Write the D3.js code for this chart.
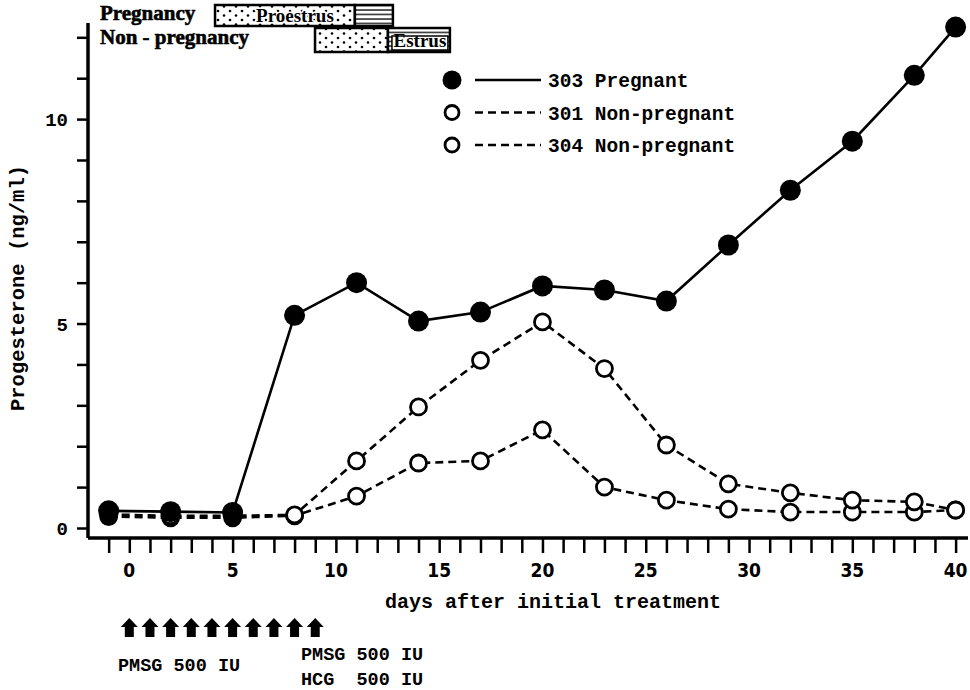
<!DOCTYPE html>
<html>
<head>
<meta charset="utf-8">
<script src="https://cdn.jsdelivr.net/npm/d3@7/dist/d3.min.js"></script>
<style>
body{margin:0;background:#fff;}
</style>
</head>
<body>
<div id="chart"></div>
<script>
// days of sampling
var days = [-1, 2, 5, 8, 11, 14, 17, 20, 23, 26, 29, 32, 35, 38, 40];
var pregnant303 = [0.42, 0.40, 0.38, 5.2, 6.0, 5.06, 5.28, 5.92, 5.82, 5.55, 6.92, 8.26, 9.46, 11.07, 12.25];
var nonPregnant301 = [0.33, 0.30, 0.30, 0.32, 1.64, 2.96, 4.1, 5.04, 3.9, 2.03, 1.08, 0.86, 0.68, 0.64, 0.44];
var nonPregnant304 = [0.28, 0.25, 0.25, 0.30, 0.78, 1.59, 1.64, 2.4, 1.0, 0.68, 0.46, 0.39, 0.39, 0.39, 0.44];
var seriesNames = ["303 Pregnant", "301 Non-pregnant", "304 Non-pregnant"];

var xTickLabels = [0, 5, 10, 15, 20, 25, 30, 35, 40];
var yTickLabels = [0, 5, 10];
var xTitle = "days after initial treatment";
var yTitle = "Progesterone (ng/ml)";

// injections (one arrow each day)
var injectionDays = [0, 1, 2, 3, 4, 5, 6, 7, 8, 9];
var injectionText1 = ["PMSG 500 IU"];
var injectionText2 = ["PMSG 500 IU", "HCG  500 IU"];

// oestrous phases: [proestrus start, estrus start, estrus end]
var phaseRows = ["Pregnancy", "Non - pregnancy"];
var pregnancyPhases = [4.15, 10.92, 12.76];
var nonPregnancyPhases = [8.99, 12.52, 15.52];

var cfg = {
  w: 970,
  h: 690,
  left: 88,
  right: 968,
  top: 23,
  zeroY: 528,
  bottom: 538,
  mono: "'Liberation Mono', 'DejaVu Sans Mono', monospace",
  serif: "'Liberation Serif', 'DejaVu Serif', serif",
  narrow: "'Liberation Sans Narrow', 'DejaVu Sans Condensed', 'Liberation Sans', sans-serif"
};

var svg = d3.select("#chart").append("svg")
  .attr("width", cfg.w)
  .attr("height", cfg.h)
  .style("font-weight", "bold");

var defs = svg.append("defs");
var dots = defs.append("pattern").attr("id", "dots").attr("patternUnits", "userSpaceOnUse")
  .attr("width", 12).attr("height", 9);
dots.append("rect").attr("width", 12).attr("height", 9).attr("fill", "#fff");
dots.append("circle").attr("cx", 2).attr("cy", 2).attr("r", 1.3).attr("fill", "#000");
dots.append("circle").attr("cx", 8).attr("cy", 6.5).attr("r", 1.3).attr("fill", "#000");
var stripes = defs.append("pattern").attr("id", "stripes").attr("patternUnits", "userSpaceOnUse")
  .attr("width", 8).attr("height", 4.5);
stripes.append("rect").attr("width", 8).attr("height", 4.5).attr("fill", "#fff");
stripes.append("line").attr("x1", 0).attr("x2", 8).attr("y1", 1).attr("y2", 1)
  .attr("stroke", "#000").attr("stroke-width", 1.3);

var yMin = (cfg.zeroY - cfg.bottom) / ((cfg.zeroY - 119) / 10);
var x = d3.scaleLinear().domain([-2, 40.6]).range([cfg.left, cfg.right]);
var y = d3.scaleLinear().domain([yMin, 12.35]).range([cfg.bottom, cfg.top]);

// x axis
var xAxis = svg.append("g")
  .attr("transform", "translate(0," + cfg.bottom + ")")
  .call(d3.axisBottom(x).tickValues(d3.range(-1, 41)).tickSize(15).tickFormat(""));
xAxis.select(".domain").attr("d", "M" + cfg.left + ",0H" + cfg.right).attr("stroke-width", 3.5);
xAxis.selectAll(".tick line").attr("stroke-width", 2.5);

svg.append("g").selectAll("text").data(xTickLabels).join("text")
  .attr("x", function(d){ return x(d); })
  .attr("y", 577)
  .attr("text-anchor", "middle")
  .style("font-family", cfg.narrow)
  .style("font-stretch", "condensed")
  .style("font-size", "19px")
  .text(function(d){ return d; });

svg.append("text")
  .attr("x", 553).attr("y", 608)
  .attr("text-anchor", "middle")
  .style("font-family", cfg.mono)
  .style("font-size", "20px")
  .text(xTitle);

// y axis
var yAxis = svg.append("g")
  .attr("transform", "translate(" + cfg.left + ",0)")
  .call(d3.axisLeft(y).tickValues(d3.range(0, 13)).tickSize(11).tickFormat(""));
yAxis.select(".domain").attr("d", "M0," + cfg.top + "V" + cfg.bottom).attr("stroke-width", 3.5);
yAxis.selectAll(".tick line").attr("stroke-width", 2.5);

svg.append("g").selectAll("text").data(yTickLabels).join("text")
  .attr("x", 68)
  .attr("y", function(d){ return y(d) + 7; })
  .attr("text-anchor", "end")
  .style("font-family", cfg.mono)
  .style("font-size", "19px")
  .text(function(d){ return d; });

svg.append("text")
  .attr("transform", "translate(24,288) rotate(-90)")
  .attr("text-anchor", "middle")
  .style("font-family", cfg.mono)
  .style("font-size", "20.5px")
  .text(yTitle);

// series
var series = [
  {name: seriesNames[0], values: pregnant303, dash: null, filled: true},
  {name: seriesNames[1], values: nonPregnant301, dash: "8,5", filled: false},
  {name: seriesNames[2], values: nonPregnant304, dash: "8,5", filled: false}
];

var line = d3.line()
  .x(function(d){ return x(d[0]); })
  .y(function(d){ return y(d[1]); });

var drawOrder = [series[2], series[1], series[0]];
drawOrder.forEach(function(s){
  svg.append("path")
    .datum(d3.zip(days, s.values))
    .attr("d", line)
    .attr("fill", "none")
    .attr("stroke", "#000")
    .attr("stroke-width", 2.6)
    .attr("stroke-dasharray", s.dash);
});
drawOrder.forEach(function(s){
  svg.append("g").selectAll("circle")
    .data(d3.zip(days, s.values))
    .join("circle")
    .attr("cx", function(d){ return x(d[0]); })
    .attr("cy", function(d){ return y(d[1]); })
    .attr("r", s.filled ? 10.5 : 8)
    .attr("fill", s.filled ? "#000" : "#fff")
    .attr("stroke", "#000")
    .attr("stroke-width", s.filled ? 0 : 2.8);
});

// legend
var legend = svg.append("g").selectAll("g").data(series).join("g")
  .attr("transform", function(d, i){ return "translate(452," + (80 + i * 32.5) + ")"; });
legend.append("circle")
  .attr("r", function(d){ return d.filled ? 9.5 : 7; })
  .attr("fill", function(d){ return d.filled ? "#000" : "#fff"; })
  .attr("stroke", "#000")
  .attr("stroke-width", function(d){ return d.filled ? 0 : 2.8; });
legend.append("line")
  .attr("x1", 23).attr("x2", 89)
  .attr("stroke", "#000")
  .attr("stroke-width", 2.6)
  .attr("stroke-dasharray", function(d){ return d.dash; });
legend.append("text")
  .attr("x", 96).attr("y", 7)
  .style("font-family", cfg.mono)
  .style("font-size", "19.5px")
  .text(function(d){ return d.name; });

// oestrous phase boxes at the top
var rows = [
  {label: phaseRows[0], p: pregnancyPhases, y0: 5, y1: 26, proText: "Proestrus", estText: null},
  {label: phaseRows[1], p: nonPregnancyPhases, y0: 28, y1: 52, proText: null, estText: "Estrus"}
];
var rowG = svg.append("g").selectAll("g").data(rows).join("g");
rowG.append("text")
  .attr("x", 100)
  .attr("y", function(d, i){ return i === 0 ? 20 : 44; })
  .style("font-family", cfg.serif)
  .style("font-size", "21px")
  .attr("stroke", "#000")
  .attr("stroke-width", 0.6)
  .text(function(d){ return d.label; });
rowG.append("rect")
  .attr("x", function(d){ return x(d.p[0]); })
  .attr("y", function(d){ return d.y0; })
  .attr("width", function(d){ return x(d.p[1]) - x(d.p[0]); })
  .attr("height", function(d){ return d.y1 - d.y0; })
  .attr("fill", "url(#dots)")
  .attr("stroke", "#000")
  .attr("stroke-width", 2.5);
rowG.append("rect")
  .attr("x", function(d){ return x(d.p[1]); })
  .attr("y", function(d){ return d.y0; })
  .attr("width", function(d){ return x(d.p[2]) - x(d.p[1]); })
  .attr("height", function(d){ return d.y1 - d.y0; })
  .attr("fill", "url(#stripes)")
  .attr("stroke", "#000")
  .attr("stroke-width", 2.5);
rowG.filter(function(d){ return d.proText; }).append("text")
  .attr("x", function(d){ return (x(d.p[0]) + x(d.p[1])) / 2 + 10; })
  .attr("y", function(d){ return d.y1 - 4; })
  .attr("text-anchor", "middle")
  .style("font-family", cfg.serif)
  .style("font-size", "19px")
  .style("paint-order", "stroke")
  .attr("stroke", "#fff")
  .attr("stroke-width", 3)
  .text(function(d){ return d.proText; });
rowG.filter(function(d){ return d.estText; }).append("rect")
  .attr("x", function(d){ return x(d.p[1]) + 4; })
  .attr("y", function(d){ return d.y0 + 8; })
  .attr("width", function(d){ return x(d.p[2]) - x(d.p[1]) - 6; })
  .attr("height", function(d){ return d.y1 - d.y0 - 10; })
  .attr("fill", "#fff")
  .attr("stroke", "#000")
  .attr("stroke-width", 1.5);
rowG.filter(function(d){ return d.estText; }).append("text")
  .attr("x", function(d){ return (x(d.p[1]) + x(d.p[2])) / 2 + 1; })
  .attr("y", function(d){ return d.y1 - 5; })
  .attr("text-anchor", "middle")
  .style("font-family", cfg.serif)
  .style("font-size", "19px")
  .text(function(d){ return d.estText; });

// injection arrows
var arrow = "M0,-10 L8.5,-1 L4.5,-1 L4.5,9 L-4.5,9 L-4.5,-1 L-8.5,-1 Z";
svg.append("g").selectAll("path").data(injectionDays).join("path")
  .attr("transform", function(d){ return "translate(" + x(d) + ",628)"; })
  .attr("d", arrow)
  .attr("fill", "#000");

svg.append("g").selectAll("text").data(injectionText1).join("text")
  .attr("x", 118).attr("y", 671)
  .style("font-family", cfg.mono)
  .style("font-size", "18.5px")
  .style("white-space", "pre")
  .text(function(d){ return d; });
svg.append("g").selectAll("text").data(injectionText2).join("text")
  .attr("x", 301)
  .attr("y", function(d, i){ return 660 + i * 25; })
  .style("font-family", cfg.mono)
  .style("font-size", "18.5px")
  .style("white-space", "pre")
  .text(function(d){ return d; });
</script>
</body>
</html>
